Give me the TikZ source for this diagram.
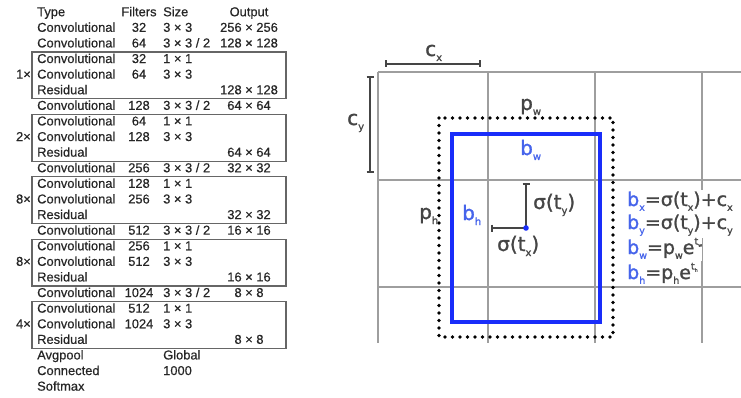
\documentclass[tikz,border=0pt]{standalone}
\usepackage{fontspec}
\usetikzlibrary{calc}
\setmainfont[FakeBold=0.5]{Liberation Sans}
\newfontfamily\dvfont[FakeBold=1.2]{DejaVu Sans}
\definecolor{gridgray}{gray}{0.62}
\definecolor{bbblue}{RGB}{25,45,250}
\definecolor{lblblue}{RGB}{70,100,235}
\definecolor{ink}{gray}{0.27}
\definecolor{tabink}{gray}{0.15}
\newcommand{\mysub}[1]{\raisebox{-0.25em}{\scalebox{0.5}{#1}}}
\newcommand{\mysup}[1]{\raisebox{0.5em}{\scalebox{0.5}{#1}}}
\newcommand{\trow}[5]{%
  \node[cell,anchor=west] (ty#1) at (37,{13+15.6*#1}) {#2};
  \node[cell] (fi#1) at (139,{13+15.6*#1}) {#3};
  \node[cell,anchor=west] (sz#1) at (163,{13+15.6*#1}) {#4};
  \node[cell] (ou#1) at (249,{13+15.6*#1}) {#5};}
\newcommand{\repbox}[3]{%
  \draw[boxline] (32,{13+15.6*#1-7.8}) rectangle (286,{13+15.6*#2+7.8});
  \node[cell,anchor=east,inner xsep=1pt] (m#1) at (32,{13+15.6*(#1+1)}) {#3};}
\begin{document}
\begin{tikzpicture}[x=1pt,y=-1pt,
  cell/.style={inner sep=0pt,text height=9pt,text depth=2.5pt,font=\fontsize{12.9}{14}\selectfont,text=tabink},
  boxline/.style={draw=black!60,line width=1.1pt},
  gridline/.style={draw=gridgray,line width=1.8pt},
  dim/.style={draw=ink,line width=1.9pt},
  tick/.style={draw=ink,line width=1.4pt},
  lbl/.style={inner sep=0pt,anchor=base west,font=\dvfont\fontsize{20}{22}\selectfont,text=ink},
  eq/.style={inner xsep=0pt,inner ysep=2pt,anchor=base west,font=\dvfont\fontsize{19}{21}\selectfont,text=ink,fill=white},
  ]
\useasboundingbox (0,0) rectangle (741,398);
% ---------------- table ----------------
\trow{0}{Type}{Filters}{Size}{Output}
\trow{1}{Convolutional}{32}{3 × 3}{256 × 256}
\trow{2}{Convolutional}{64}{3 × 3 / 2}{128 × 128}
\trow{3}{Convolutional}{32}{1 × 1}{}
\trow{4}{Convolutional}{64}{3 × 3}{}
\trow{5}{Residual}{}{}{128 × 128}
\trow{6}{Convolutional}{128}{3 × 3 / 2}{64 × 64}
\trow{7}{Convolutional}{64}{1 × 1}{}
\trow{8}{Convolutional}{128}{3 × 3}{}
\trow{9}{Residual}{}{}{64 × 64}
\trow{10}{Convolutional}{256}{3 × 3 / 2}{32 × 32}
\trow{11}{Convolutional}{128}{1 × 1}{}
\trow{12}{Convolutional}{256}{3 × 3}{}
\trow{13}{Residual}{}{}{32 × 32}
\trow{14}{Convolutional}{512}{3 × 3 / 2}{16 × 16}
\trow{15}{Convolutional}{256}{1 × 1}{}
\trow{16}{Convolutional}{512}{3 × 3}{}
\trow{17}{Residual}{}{}{16 × 16}
\trow{18}{Convolutional}{1024}{3 × 3 / 2}{8 × 8}
\trow{19}{Convolutional}{512}{1 × 1}{}
\trow{20}{Convolutional}{1024}{3 × 3}{}
\trow{21}{Residual}{}{}{8 × 8}
\trow{22}{Avgpool}{}{Global}{}
\trow{23}{Connected}{}{1000}{}
\trow{24}{Softmax}{}{}{}
\repbox{3}{5}{1×}
\repbox{7}{9}{2×}
\repbox{11}{13}{8×}
\repbox{15}{17}{8×}
\repbox{19}{21}{4×}
% ---------------- grid ----------------
\coordinate (g00) at (378,72);  \coordinate (g0e) at (741,72);
\coordinate (g10) at (378,180); \coordinate (g1e) at (741,180);
\coordinate (g20) at (378,287); \coordinate (g2e) at (741,287);
\draw[gridline] (g00) -- (g0e);
\draw[gridline] (g10) -- (g1e);
\draw[gridline] (g20) -- (g2e);
\foreach \gx [count=\k] in {378,488,595,702}{
  \coordinate (vt\k) at (\gx,72);
  \coordinate (vb\k) at (\gx,343);
  \draw[gridline] (vt\k) -- (vb\k);
}
% ---------------- boxes ----------------
\coordinate (pA) at (439,118); \coordinate (pB) at (613,337);
\draw[black,line width=3.7pt,line cap=round,dash pattern=on 0pt off 7.5pt] (pA) rectangle (pB);
\coordinate (bA) at (452,134); \coordinate (bB) at (600,322);
\draw[bbblue,line width=3.2pt] (bA) rectangle (bB);
% ---------------- dimension bars ----------------
\coordinate (cxa) at (386,64); \coordinate (cxb) at (480,64);
\draw[dim] (cxa) -- (cxb);
\draw[tick] ($(cxa)+(0,-3.5)$) -- ($(cxa)+(0,3.5)$);
\draw[tick] ($(cxb)+(0,-3.5)$) -- ($(cxb)+(0,3.5)$);
\coordinate (cya) at (370,77); \coordinate (cyb) at (370,172);
\draw[dim] (cya) -- (cyb);
\draw[tick] ($(cya)+(-3.5,0)$) -- ($(cya)+(3.5,0)$);
\draw[tick] ($(cyb)+(-3.5,0)$) -- ($(cyb)+(3.5,0)$);
\coordinate (ctr) at (526,228);
\coordinate (tya) at (526,184);
\coordinate (txa) at (492,228);
\draw[dim] (tya) -- (ctr);
\draw[tick] ($(tya)+(-3.5,0)$) -- ($(tya)+(3.5,0)$);
\draw[dim] (txa) -- (ctr);
\draw[tick] ($(txa)+(0,-3.5)$) -- ($(txa)+(0,3.5)$);
\fill[bbblue] (ctr) circle (2.8);
% ---------------- labels ----------------
\node[lbl] (lcx) at (425,56) {c\mysub{x}};
\node[lbl] (lcy) at (347,125) {c\mysub{y}};
\node[lbl] (lpw) at (520,110) {p\mysub{w}};
\node[lbl,text=lblblue] (lbw) at (520,155) {b\mysub{w}};
\node[lbl] (lph) at (419,219) {p\mysub{h}};
\node[lbl,text=lblblue] (lbh) at (462,220) {b\mysub{h}};
\node[lbl] (lty) at (533,209) {σ(t\mysub{y})};
\node[lbl] (ltx) at (497,251) {σ(t\mysub{x})};
% ---------------- equations ----------------
\node[eq] (e1) at (627,206) {\textcolor{lblblue}{b\mysub{x}}=σ(t\mysub{x})+c\mysub{x}};
\node[eq] (e2) at (627,229) {\textcolor{lblblue}{b\mysub{y}}=σ(t\mysub{y})+c\mysub{y}};
\node[eq] (e3) at (627,254) {\textcolor{lblblue}{b\mysub{w}}=p\mysub{w}e\mysup{t\mysub{w}}};
\node[eq] (e4) at (627,279) {\textcolor{lblblue}{b\mysub{h}}=p\mysub{h}e\mysup{t\mysub{h}}};
\end{tikzpicture}
\end{document}
